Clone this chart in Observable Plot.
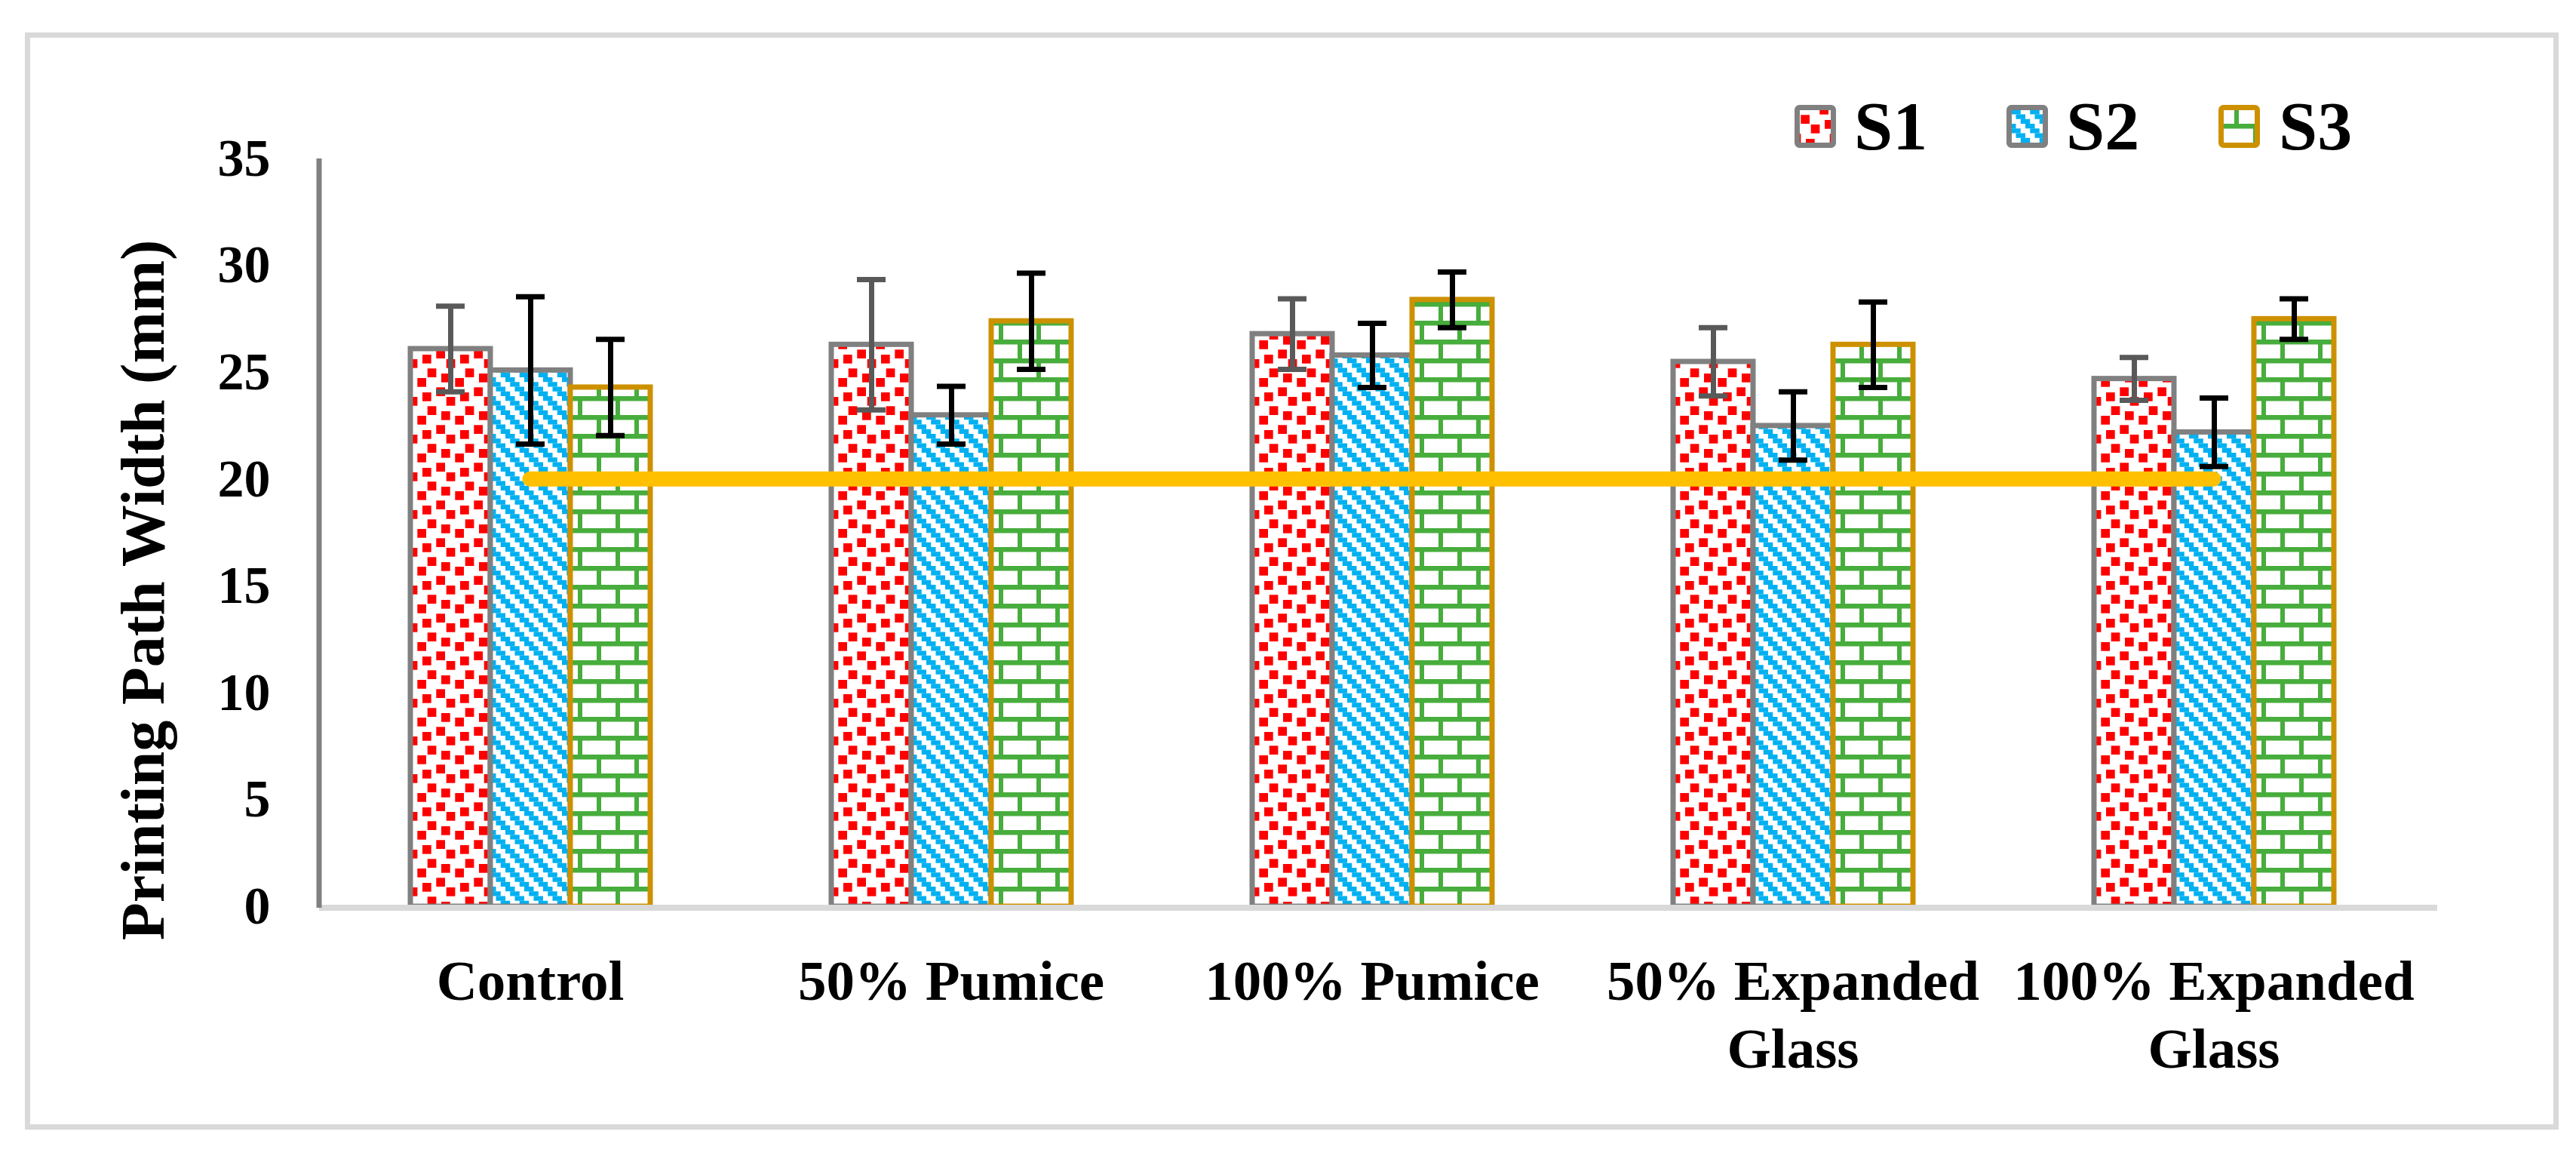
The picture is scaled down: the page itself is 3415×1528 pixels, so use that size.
<!DOCTYPE html>
<html>
<head>
<meta charset="utf-8">
<script src="https://cdn.jsdelivr.net/npm/d3@7"></script>
<script src="https://cdn.jsdelivr.net/npm/@observablehq/plot@0.6"></script>
<style>
  html, body { margin: 0; padding: 0; background: #fff; }
  #wrap { position: relative; width: 3415px; height: 1528px; background: #fff; overflow: hidden;
          font-family: "Liberation Serif", "Times New Roman", serif; color: #000; }
  #frame { position: absolute; left: 33px; top: 43px; width: 3359px; height: 1454px; box-sizing: border-box;
           border: 7px solid #d9d9d9; }
  #chart { position: absolute; left: 0; top: 0; }
  #ytitle { position: absolute; left: 190px; top: 782px; transform: translate(-50%, -50%) rotate(-90deg);
            font-size: 82px; font-weight: bold; white-space: nowrap; line-height: 1; }
  .lg-sw { position: absolute; top: 139px; width: 55px; height: 57px; }
  .lg-tx { position: absolute; top: 121px; font-size: 92px; font-weight: bold; line-height: 1; white-space: nowrap; }
</style>
</head>
<body>
<div id="wrap">
  <div id="frame"></div>
  <div id="chart"></div>
  <div id="ytitle">Printing Path Width (mm)</div>
  <div id="legend"></div>
</div>
<script>
// ---- data ----
const categories = ["Control", "50% Pumice", "100% Pumice", "50% Expanded\nGlass", "100% Expanded\nGlass"];
const seriesNames = ["S1", "S2", "S3"];
const s1Mean = [26.1, 26.3, 26.8, 25.5, 24.7];
const s1Err  = [2.0, 3.05, 1.65, 1.6, 1.0];
const s2Mean = [25.1, 23.0, 25.8, 22.5, 22.2];
const s2Err  = [3.45, 1.35, 1.5, 1.6, 1.6];
const s3Mean = [24.3, 27.4, 28.4, 26.3, 27.5];
const s3Err  = [2.25, 2.25, 1.3, 2.0, 0.95];
const targetWidth = 20;
const yTicks = [0, 5, 10, 15, 20, 25, 30, 35];

const means = {S1: s1Mean, S2: s2Mean, S3: s3Mean};
const errs = {S1: s1Err, S2: s2Err, S3: s3Err};

// ---- styles ----
const style = {
  S1: {fill: "url(#pat-s1)", stroke: "#808080", err: "#595959"},
  S2: {fill: "url(#pat-s2)", stroke: "#808080", err: "#000000"},
  S3: {fill: "url(#pat-s3)", stroke: "#CD9100", err: "#000000"}
};

const rows = [];
categories.forEach((c, i) => seriesNames.forEach(s => {
  rows.push({category: c, series: s, mean: means[s][i], err: errs[s][i]});
}));

const fontFamily = '"Liberation Serif", "Times New Roman", serif';

const chart = Plot.plot({
  width: 3415,
  height: 1528,
  marginLeft: 423,
  marginRight: 201,
  marginTop: 210,
  marginBottom: 327,
  style: {background: "transparent", fontFamily, color: "#000", overflow: "visible"},
  fx: {domain: categories, paddingInner: 0.428, paddingOuter: 0.214},
  x: {domain: seriesNames, padding: 0, axis: null},
  y: {domain: [0, 35]},
  marks: [
    ...seriesNames.map(s => Plot.barY(rows.filter(d => d.series === s), {
      fx: "category", x: "series", y: "mean",
      fill: style[s].fill, stroke: style[s].stroke, strokeWidth: 7
    })),
    // axis lines and target line, drawn once across all facets from the fx and y scales
    Plot.frame({
      facet: "super",
      render(index, scales, values, dimensions, context) {
        const {fx, y} = scales;
        const [left, right] = fx.range();
        const half = fx.bandwidth() / 2;
        const g = d3.create("svg:g");
        // category axis baseline
        g.append("line")
          .attr("x1", left).attr("x2", right + 17)
          .attr("y1", y(0) + 2).attr("y2", y(0) + 2)
          .attr("stroke", "#d9d9d9").attr("stroke-width", 8);
        // value axis line
        g.append("line")
          .attr("x1", left).attr("x2", left)
          .attr("y1", y(yTicks[yTicks.length - 1])).attr("y2", y(0) + 2)
          .attr("stroke", "#808080").attr("stroke-width", 7);
        // target line
        const yy = y(targetWidth);
        g.append("line")
          .attr("x1", fx(categories[0]) + half)
          .attr("x2", fx(categories[categories.length - 1]) + half)
          .attr("y1", yy).attr("y2", yy)
          .attr("stroke", "#FFC000").attr("stroke-width", 20).attr("stroke-linecap", "round");
        return g.node();
      }
    }),
    Plot.ruleX(rows, {
      fx: "category", x: "series",
      y1: d => d.mean - d.err, y2: d => d.mean + d.err,
      stroke: d => style[d.series].err, strokeWidth: 7
    }),
    Plot.tickY(rows, {
      fx: "category", x: "series", y: d => d.mean - d.err,
      stroke: d => style[d.series].err, strokeWidth: 7, insetLeft: 34, insetRight: 34
    }),
    Plot.tickY(rows, {
      fx: "category", x: "series", y: d => d.mean + d.err,
      stroke: d => style[d.series].err, strokeWidth: 7, insetLeft: 34, insetRight: 34
    }),
    Plot.axisY({ticks: yTicks, tickSize: 0, tickPadding: 185, fontSize: 70, fontWeight: "bold", fill: "#000", label: null}),
    Plot.axisFx({anchor: "bottom", tickSize: 0, tickPadding: 60, fontSize: 75, fontWeight: "bold", lineHeight: 1.2, fill: "#000", label: null})
  ]
});

// pattern definitions
const defsHtml = `
<pattern id="pat-s1" patternUnits="userSpaceOnUse" width="50" height="50">
  <rect width="50" height="50" fill="#fff"/>
  <g fill="#FF0000">
    <rect x="8.3" y="13.3" width="11.7" height="11.7"/>
    <rect x="40" y="20" width="11.7" height="11.7"/>
    <rect x="-10" y="20" width="11.7" height="11.7"/>
    <rect x="21.7" y="26" width="11.7" height="11.7"/>
    <rect x="46.7" y="38.3" width="11.7" height="11.7"/>
    <rect x="-3.3" y="38.3" width="11.7" height="11.7"/>
    <rect x="15" y="45" width="11.7" height="11.7"/>
    <rect x="15" y="-5" width="11.7" height="11.7"/>
    <rect x="33.3" y="1" width="11.7" height="11.7"/>
  </g>
</pattern>
<pattern id="pat-s2" patternUnits="userSpaceOnUse" width="25" height="25">
  <rect width="25" height="25" fill="#fff"/>
  <g fill="#00B0F0">
    <rect x="0" y="0" width="12.5" height="6.25"/>
    <rect x="6.25" y="6.25" width="12.5" height="6.25"/>
    <rect x="12.5" y="12.5" width="12.5" height="6.25"/>
    <rect x="18.75" y="18.75" width="6.25" height="6.25"/>
    <rect x="0" y="18.75" width="6.25" height="6.25"/>
  </g>
</pattern>
<pattern id="pat-s3" patternUnits="userSpaceOnUse" width="50" height="50">
  <rect width="50" height="50" fill="#fff"/>
  <g fill="#47AD3C">
    <rect x="0" y="0" width="50" height="6.5"/>
    <rect x="0" y="25" width="50" height="6.5"/>
    <rect x="21" y="6" width="6" height="19.5"/>
    <rect x="46" y="31" width="4" height="19.5"/>
    <rect x="0" y="31" width="2" height="19.5"/>
  </g>
</pattern>`;
d3.select(chart).insert("defs", ":first-child").html(defsHtml);
document.getElementById("chart").appendChild(chart);

// legend
const legend = document.getElementById("legend");
const legendX = {S1: [2379, 2458], S2: [2660, 2739], S3: [2941, 3021]};
seriesNames.forEach(s => {
  const sw = document.createElement("div");
  sw.className = "lg-sw";
  sw.style.left = legendX[s][0] + "px";
  sw.innerHTML = `<svg width="55" height="57"><rect x="3.5" y="3.5" width="48" height="50" rx="3" fill="${style[s].fill}" stroke="${style[s].stroke}" stroke-width="7"/></svg>`;
  legend.appendChild(sw);
  const tx = document.createElement("div");
  tx.className = "lg-tx";
  tx.style.left = legendX[s][1] + "px";
  tx.textContent = s;
  legend.appendChild(tx);
});
</script>
</body>
</html>
